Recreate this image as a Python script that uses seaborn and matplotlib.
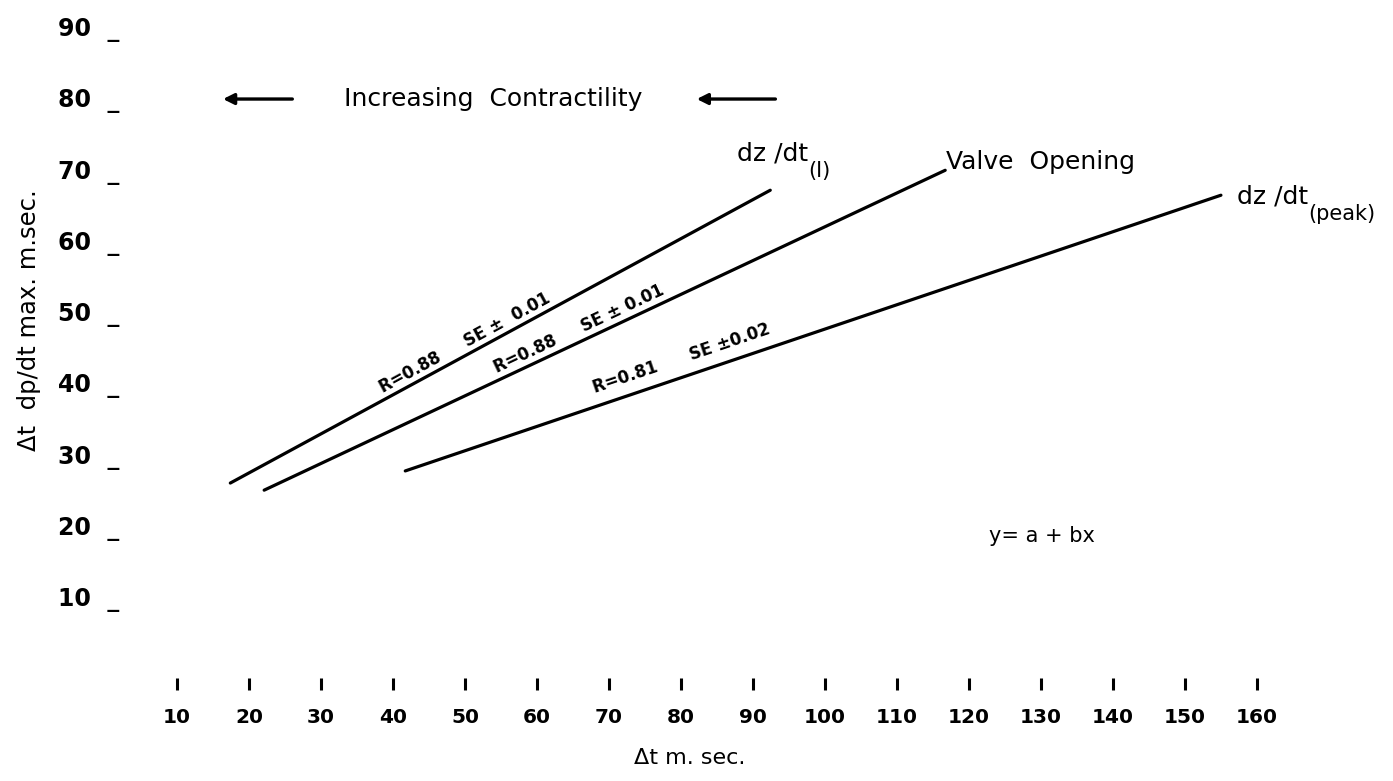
import matplotlib
matplotlib.use("Agg")
import matplotlib.pyplot as plt
import seaborn as sns
import pandas as pd

# regression lines: (x start, x end), (y start, y end)
series_names = ["dz/dt(I)", "Valve Opening", "dz/dt(peak)"]
x_start = [17.4, 22.1, 41.7]
x_end = [92.4, 116.7, 155.0]
y_start = [26.0, 25.0, 27.7]
y_end = [67.1, 69.9, 66.4]

x_ticks = [10, 20, 30, 40, 50, 60, 70, 80, 90, 100, 110, 120, 130, 140, 150, 160]
y_ticks = [10, 20, 30, 40, 50, 60, 70, 80, 90]

stats_text = ["R=0.88     SE \u00b1  0.01", "R=0.88     SE \u00b1 0.01", "R=0.81      SE \u00b10.02"]
stats_pos = [(38.6, 38.6), (54.4, 41.4), (68.1, 38.6)]
stats_angle = [28.5, 25.2, 18.7]

sns.set_theme(style="white")
plt.rcParams["font.family"] = ["DejaVu Sans"]
for key in ["text.color", "axes.labelcolor", "xtick.color", "ytick.color"]:
    plt.rcParams[key] = "black"

rows = []
for name, x0, x1, y0, y1 in zip(series_names, x_start, x_end, y_start, y_end):
    rows.append({"series": name, "x": x0, "y": y0})
    rows.append({"series": name, "x": x1, "y": y1})
df = pd.DataFrame(rows)

fig = plt.figure(figsize=(13.93, 7.81), dpi=100)
ax = fig.add_axes([0.0919, 0.1165, 0.9081, 0.8835])

for name in series_names:
    sns.lineplot(data=df[df["series"] == name], x="x", y="y", color="black",
                 linewidth=2.3, estimator=None, sort=False, ax=ax)

ax.set_xlim(3.19, 178.9)
ax.set_ylim(-3.05, 93.8)
for s in ax.spines.values():
    s.set_visible(False)

ax.set_xticks(x_ticks)
ax.set_xticklabels([str(t) for t in x_ticks], fontweight="bold", fontsize=14.5)
ax.tick_params(axis="x", direction="in", length=9, width=2.2, pad=13, bottom=True)
ax.set_yticks(y_ticks)
ax.set_yticklabels([f"{t}  _" for t in y_ticks], fontweight="bold", fontsize=17)
ax.tick_params(axis="y", length=0, pad=6)

ax.set_xlabel("\u0394t m. sec.", fontsize=16)
ax.xaxis.set_label_coords(0.444, -0.084)
ax.set_ylabel("\u0394t  dp/dt max. m.sec.", fontsize=17.5)
ax.yaxis.set_label_coords(-0.069, 0.536)


def end_label(x, y, main, sub):
    t = ax.text(x, y, main, fontsize=18, ha="left", va="baseline")
    ax.annotate(sub, xy=(1, 0), xycoords=t, xytext=(0, -4),
                textcoords="offset points", fontsize=15, ha="left", va="center")


end_label(87.8, 71.3, "dz /dt", "(I)")
ax.text(x_end[1] + 0.1, y_end[1] + 0.2, "Valve  Opening", fontsize=18,
        ha="left", va="baseline")
end_label(x_end[2] + 2.2, y_end[2] - 1.1, "dz /dt", "(peak)")

for txt, (tx, ty), ang in zip(stats_text, stats_pos, stats_angle):
    ax.text(tx, ty, txt, fontsize=12, fontweight="bold", rotation=ang,
            rotation_mode="anchor", ha="left", va="baseline")

ax.text(53.9, 79.9, "Increasing  Contractility", fontsize=18, ha="center", va="center")
for a0, a1 in [(26.4, 16.0), (93.5, 81.8)]:
    ax.annotate("", xy=(a1, 79.9), xytext=(a0, 79.9),
                arrowprops=dict(arrowstyle="-|>", color="black", lw=2.4,
                                mutation_scale=16))

ax.text(130.1, 18.6, "y= a + bx", fontsize=15, ha="center", va="center")

fig.savefig("out.png", dpi=100)
